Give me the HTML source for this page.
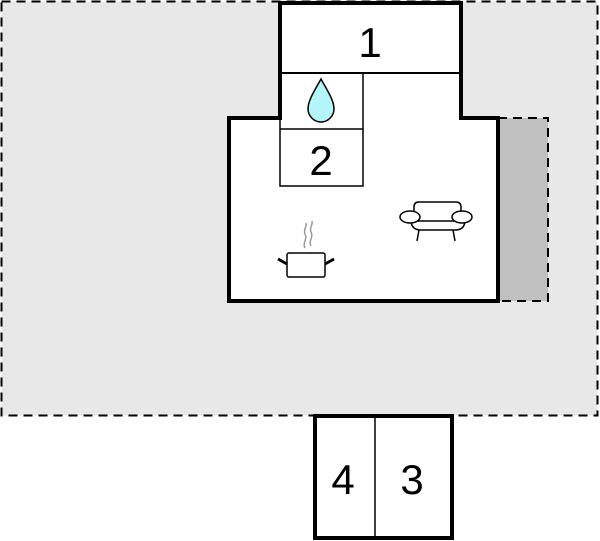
<!DOCTYPE html>
<html><head><style>html,body{margin:0;padding:0;background:#fff;width:600px;height:541px;overflow:hidden}</style></head>
<body>
<svg width="600" height="541" viewBox="0 0 600 541" xmlns="http://www.w3.org/2000/svg" font-family="Liberation Sans, sans-serif">
<rect x="1.5" y="1.5" width="596" height="414" fill="#e8e8e8" stroke="#000" stroke-width="2" stroke-dasharray="9,6"/>
<rect x="498" y="118" width="50" height="183" fill="#c0c0c0" stroke="#000" stroke-width="2" stroke-dasharray="9,6"/>
<path d="M280,3 H461 V118 H498 V301 H229 V118 H280 Z" fill="#fff" stroke="#000" stroke-width="4"/>
<line x1="280" y1="73" x2="461" y2="73" stroke="#000" stroke-width="2"/>
<rect x="280" y="73" width="83" height="113" fill="none" stroke="#000" stroke-width="1.5"/>
<line x1="280" y1="129" x2="363" y2="129" stroke="#000" stroke-width="1.5"/>
<text x="370" y="57" font-size="42" text-anchor="middle">1</text>
<text x="321" y="175" font-size="42" text-anchor="middle">2</text>
<path d="M321,79 C315,90 308,100 308,109 C308,116 314,122 321,122 C328,122 334,116 334,109 C334,100 327,90 321,79 Z" fill="#b3f5f8" stroke="#000" stroke-width="1.5"/>
<!-- pot -->
<rect x="287" y="253" width="38" height="24" rx="2" fill="#fff" stroke="#000" stroke-width="1.5"/>
<line x1="278" y1="259" x2="287" y2="264" stroke="#000" stroke-width="3"/>
<line x1="325" y1="264" x2="334" y2="259" stroke="#000" stroke-width="3"/>
<path d="M305,248 c-3,-5 3,-9 0,-14 c-2,-4 2,-7 1,-11 M311,246 c-3,-5 3,-9 0,-14 c-2,-4 2,-7 1,-11" fill="none" stroke="#999" stroke-width="1.5"/>
<!-- sofa -->
<path d="M414,213 v-6 q0,-5 5,-5 h37 q5,0 5,5 v6" fill="none" stroke="#000" stroke-width="1.5"/>
<path d="M411,220 q0,10 10,10 h34 q10,0 10,-10" fill="none" stroke="#000" stroke-width="1.5"/>
<line x1="417" y1="221" x2="459" y2="221" stroke="#000" stroke-width="1.5"/>
<ellipse cx="410" cy="217" rx="10" ry="6" fill="#fff" stroke="#000" stroke-width="1.5"/>
<ellipse cx="462" cy="217" rx="10" ry="6" fill="#fff" stroke="#000" stroke-width="1.5"/>
<line x1="419" y1="230" x2="417" y2="241" stroke="#000" stroke-width="1.5"/>
<line x1="453" y1="230" x2="455" y2="241" stroke="#000" stroke-width="1.5"/>
<!-- bottom box -->
<rect x="315" y="416" width="137" height="122" fill="#fff" stroke="#000" stroke-width="4"/>
<line x1="375" y1="416" x2="375" y2="538" stroke="#000" stroke-width="1.5"/>
<text x="343" y="494" font-size="42" text-anchor="middle">4</text>
<text x="412" y="494" font-size="42" text-anchor="middle">3</text>
</svg>
</body></html>
